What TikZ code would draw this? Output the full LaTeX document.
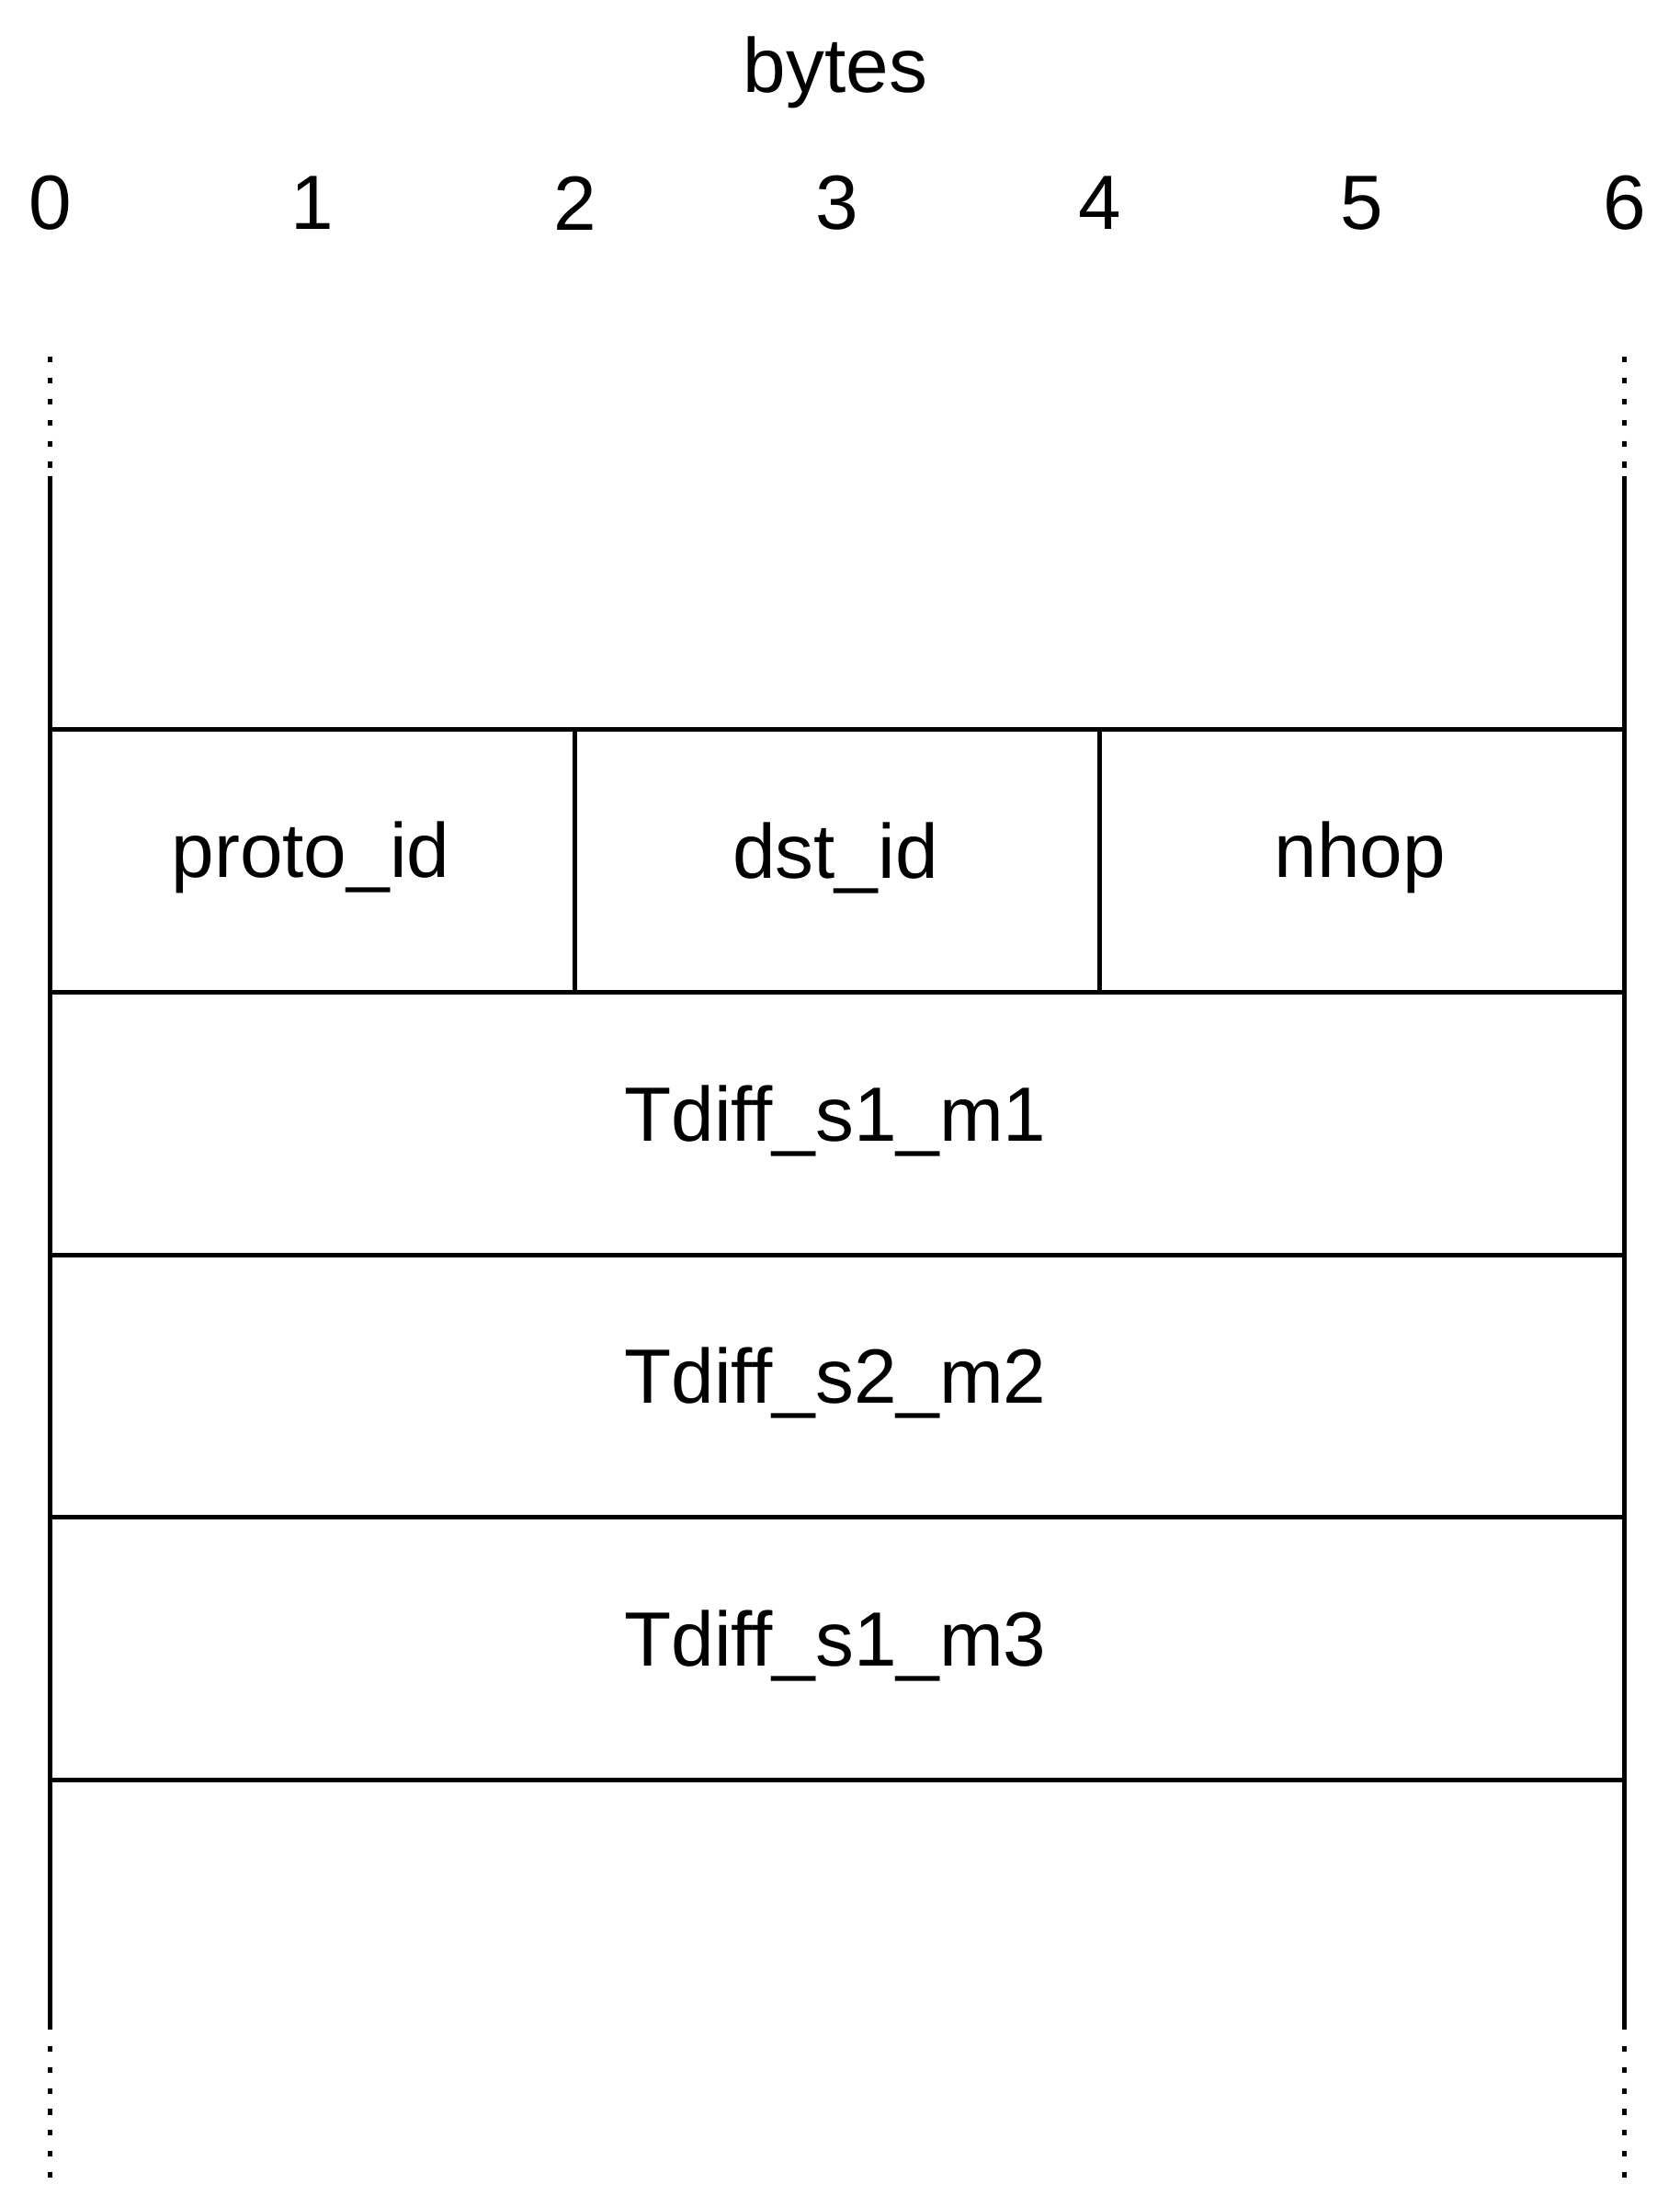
\documentclass[tikz,border=0pt]{standalone}
\usepackage{fontspec}
\setmainfont{Liberation Sans}
\begin{document}
\begin{tikzpicture}[x=1pt,y=-1pt,
  lbl/.style={font=\fontsize{55}{66}\selectfont},
  solidline/.style={line width=3.5pt},
  dotline/.style={line width=3.5pt,dash pattern=on 4pt off 11pt}]
\useasboundingbox (0,0) rectangle (1200,1577);
\node[lbl] (bytes) at (597,52) {bytes};
\foreach \i in {0,...,6} \node[lbl] (t\i) at (36+187.5*\i,145) {\i};
\coordinate (lt) at (36,340); \coordinate (lb) at (36,1450);
\coordinate (rt) at (1161,340); \coordinate (rb) at (1161,1450);
\draw[solidline] (lt) -- (lb);
\draw[solidline] (rt) -- (rb);
\draw[dotline] (36,255) -- (36,336);
\draw[dotline] (1161,255) -- (1161,336);
\draw[dotline] (36,1462) -- (36,1560);
\draw[dotline] (1161,1462) -- (1161,1560);
\foreach \y in {521,709,897,1084,1272} \draw[solidline] (36,\y) -- (1161,\y);
\draw[solidline] (411,521) -- (411,709);
\draw[solidline] (786,521) -- (786,709);
\node[lbl] (p) at (222,613) {proto\_id};
\node[lbl] (d) at (597,613) {dst\_id};
\node[lbl] (n) at (972,613) {nhop};
\node[lbl] (r1) at (597,801) {Tdiff\_s1\_m1};
\node[lbl] (r2) at (597,988) {Tdiff\_s2\_m2};
\node[lbl] (r3) at (597,1176) {Tdiff\_s1\_m3};
\end{tikzpicture}
\end{document}
